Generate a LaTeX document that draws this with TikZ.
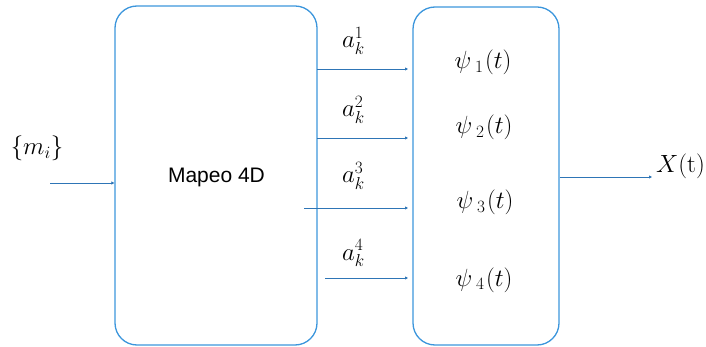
\documentclass[tikz,border=0pt]{standalone}
\usepackage{fontspec}
\setsansfont{Liberation Sans}
\usetikzlibrary{arrows.meta}
\definecolor{boxblue}{HTML}{3C96DC}
\definecolor{lineblue}{HTML}{2E75B6}
\newcommand{\psisub}[1]{\psi_{\mkern5mu #1}\mkern1mu(t)}
\begin{document}
\begin{tikzpicture}[x=1pt,y=-1pt,
  blk/.style={draw=boxblue,line width=1.3pt,rounded corners=22pt,inner sep=0pt},
  sig/.style={draw=lineblue,line width=0.9pt,-{Triangle[length=3pt,width=3pt]}},
  lbl/.style={inner sep=0pt,anchor=base,font=\fontsize{25}{28}\selectfont},
  psil/.style={lbl,font=\fontsize{27}{30}\selectfont}]
\useasboundingbox (0,0) rectangle (706,347);
\node[blk,minimum width=202pt,minimum height=339pt] (map) at (216,175.5) {};
\node[font=\sffamily\fontsize{21}{24}\selectfont,anchor=base,inner sep=0pt] (maplbl) at (216.5,183) {Mapeo 4D};
\node[blk,minimum width=146pt,minimum height=338pt] (psi) at (486,176) {};
\coordinate (in0) at (50,183);
\draw[sig] (in0) -- (map.west |- in0);
\node[lbl] (m) at (37,155) {$\{m_i\}$};
\coordinate (s1) at (317,69);  \coordinate (e1) at (408,69);
\coordinate (s2) at (317,138); \coordinate (e2) at (408,138);
\coordinate (s3) at (304,208); \coordinate (e3) at (408,208);
\coordinate (s4) at (325,278); \coordinate (e4) at (408,278);
\foreach \i in {1,2,3,4} \draw[sig] (s\i) -- (e\i);
\node[lbl,anchor=base west] (a1) at (342,48) {$a_k^1$};
\node[lbl,anchor=base west] (a2) at (342,117) {$a_k^2$};
\node[lbl,anchor=base west] (a3) at (342,183) {$a_k^3$};
\node[lbl,anchor=base west] (a4) at (342,260) {$a_k^4$};
\node[psil] (p1) at (483,68.5) {$\psisub{1}$};
\node[psil] (p2) at (484,133.5) {$\psisub{2}$};
\node[psil] (p3) at (485,208.5) {$\psisub{3}$};
\node[psil] (p4) at (484,286) {$\psisub{4}$};
\coordinate (o1) at (652,177);
\draw[sig] (psi.east |- o1) -- (o1);
\node[lbl,anchor=base west] (x) at (656,173) {$X(\mathrm{t})$};
\end{tikzpicture}
\end{document}
